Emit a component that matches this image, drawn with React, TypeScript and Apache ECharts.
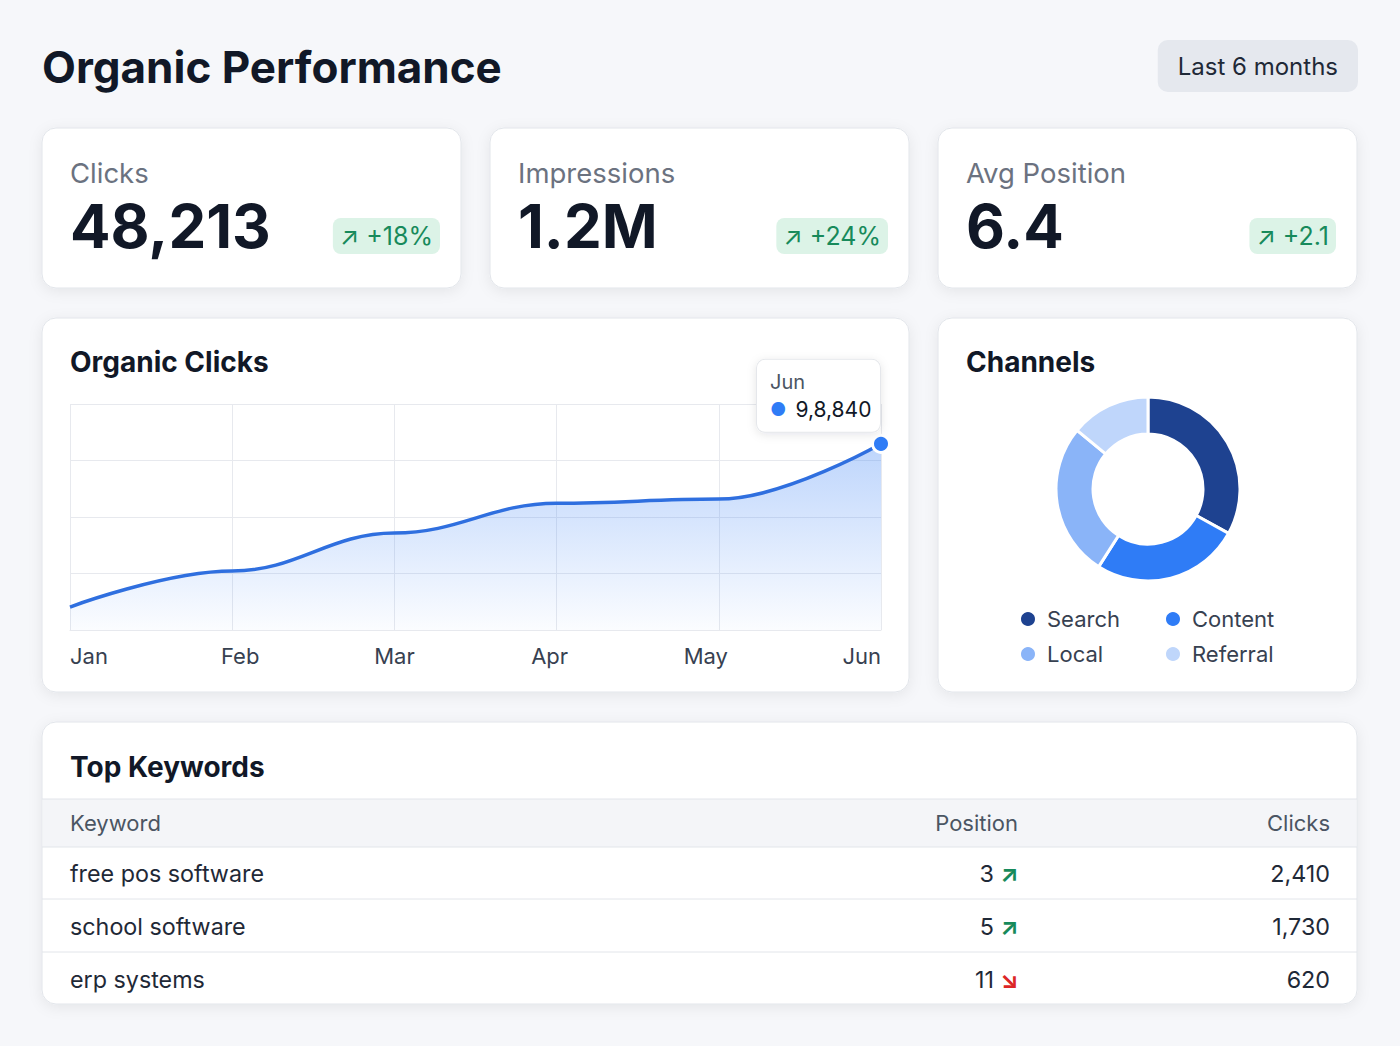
import React, { useEffect, useRef } from "react";
import * as echarts from "echarts";

// ---- data ----
const pageTitle = "Organic Performance";
const rangeLabel = "Last 6 months";

const kpiLabels = ["Clicks", "Impressions", "Avg Position"];
const kpiValues = ["48,213", "1.2M", "6.4"];
const kpiDeltas = ["↗ +18%", "↗ +24%", "↗ +2.1"];

const months = ["Jan", "Feb", "Mar", "Apr", "May", "Jun"];
const organicClicks = [12200, 31300, 51500, 67300, 69500, 98840];
const peakValueText = "9,8,840";

const channelNames = ["Search", "Content", "Local", "Referral"];
const channelShares = [33, 26, 27, 14];
const channelColors = ["#1e4290", "#2f7cf6", "#8ab4f8", "#bfd6fb"];

const tableHeaders = ["Keyword", "Position", "Clicks"];
const keywords = ["free pos software", "school software", "erp systems"];
const keywordPositions = [3, 5, 11];
const keywordTrendUp = [true, true, false];
const keywordClicks = ["2,410", "1,730", "620"];

const FONT = "Inter, 'Noto Sans', sans-serif";
const INK = "#111827";
const BORDER = "#e2e5ea";

// month labels are spread edge-to-edge, so the inner ones sit a little off their ticks
const monthLabelNudge = [0, 8, 0, -7, -13, 0];

function card(x: number, y: number, w: number, h: number) {
  return {
    type: "rect",
    z: 0,
    shape: { x, y, width: w, height: h, r: 14 },
    style: {
      fill: "#ffffff",
      stroke: BORDER,
      lineWidth: 1,
      shadowBlur: 14,
      shadowOffsetY: 3,
      shadowColor: "rgba(15, 23, 42, 0.07)",
    },
  };
}

function text(x: number, y: number, t: string, extra: any = {}) {
  return {
    type: "text",
    z: 1,
    x,
    y,
    style: {
      text: t,
      fontFamily: FONT,
      fontSize: 22,
      fill: INK,
      align: "left",
      verticalAlign: "middle",
      ...extra,
    },
  };
}

function hline(x1: number, x2: number, y: number) {
  return {
    type: "line",
    z: 1,
    shape: { x1, y1: y, x2, y2: y },
    style: { stroke: BORDER, lineWidth: 1 },
  };
}

function buildGraphics() {
  const g: any[] = [];
  g.push(text(42, 67, pageTitle, { fontSize: 44, fontWeight: 700 }));
  g.push(
    text(1358, 66, rangeLabel, {
      align: "right",
      fontSize: 24,
      fill: "#1f2937",
      lineHeight: 26,
      backgroundColor: "#e5e8ee",
      padding: [13, 20],
      borderRadius: 10,
    })
  );

  // KPI cards
  const kpiX = [42, 490, 938];
  kpiX.forEach((x, i) => {
    g.push(card(x, 128, 419, 160));
    g.push(text(x + 28, 173, kpiLabels[i], { fontSize: 27.5, fill: "#6b7280" }));
    g.push(text(x + 28, 226, kpiValues[i], { fontSize: 60, fontWeight: 700 }));
    g.push(
      text(x + 398, 236, kpiDeltas[i], {
        align: "right",
        fontSize: 25,
        fill: "#178a5b",
        lineHeight: 26,
        backgroundColor: "#dcf3e7",
        padding: [5, 7],
        borderRadius: 8,
      })
    );
  });

  // chart cards
  g.push(card(42, 318, 867, 374));
  g.push(text(70, 362, "Organic Clicks", { fontSize: 28, fontWeight: 700 }));
  g.push(card(938, 318, 419, 374));
  g.push(text(966, 362, "Channels", { fontSize: 28, fontWeight: 700 }));

  // keyword table
  g.push(card(42, 722, 1315, 282));
  g.push(text(70, 767, "Top Keywords", { fontSize: 28, fontWeight: 700 }));
  g.push({
    type: "rect",
    z: 1,
    shape: { x: 43, y: 799, width: 1313, height: 48 },
    style: { fill: "#f4f5f8" },
  });
  g.push(hline(42, 1357, 799));
  g.push(hline(42, 1357, 847));
  g.push(text(70, 823, tableHeaders[0], { fill: "#4b5563" }));
  g.push(text(1018, 823, tableHeaders[1], { fill: "#4b5563", align: "right" }));
  g.push(text(1330, 823, tableHeaders[2], { fill: "#4b5563", align: "right" }));

  const rowY = [873, 926, 979];
  keywords.forEach((k, i) => {
    const y = rowY[i];
    if (i > 0) g.push(hline(42, 1357, y - 27));
    g.push(text(70, y, k, { fontSize: 23.3, fill: "#1f2937" }));
    g.push(
      text(994, y, String(keywordPositions[i]), {
        fontSize: 23.3,
        fill: "#1f2937",
        align: "right",
      })
    );
    g.push(
      text(1000, y, keywordTrendUp[i] ? "↗" : "↘", {
        fontSize: 24,
        fontWeight: 700,
        fill: keywordTrendUp[i] ? "#178a5b" : "#dc2626",
      })
    );
    g.push(
      text(1330, y, keywordClicks[i], {
        fontSize: 23.3,
        fill: "#1f2937",
        align: "right",
      })
    );
  });
  return g;
}

function legendOption(names: string[], left: number) {
  return {
    data: names,
    orient: "vertical",
    left,
    top: 608,
    padding: 0,
    itemGap: 13,
    icon: "circle",
    itemWidth: 16,
    itemHeight: 16,
    textStyle: {
      fontSize: 22,
      color: "#374151",
      lineHeight: 22,
      fontFamily: FONT,
      padding: [0, 0, 0, 6],
    },
  };
}

export default function App() {
  const ref = useRef<HTMLDivElement>(null);

  useEffect(() => {
    if (!ref.current) return;
    const chart = echarts.init(ref.current, undefined, { renderer: "svg" });
    const gridColor = "#e7e9ee";

    const monthRich: Record<string, any> = {};
    monthLabelNudge.forEach((n, i) => {
      monthRich["m" + i] = {
        fontSize: 22,
        color: "#374151",
        fontFamily: FONT,
        padding: n >= 0 ? [0, 0, 0, 2 * n] : [0, -2 * n, 0, 0],
      };
    });

    chart.setOption({
      animation: false,
      backgroundColor: "#f6f7fa",
      textStyle: { fontFamily: FONT },
      graphic: { elements: buildGraphics() },
      grid: { left: 70, top: 404, width: 811, height: 226, containLabel: false },
      xAxis: {
        type: "category",
        data: months,
        boundaryGap: false,
        axisTick: { show: false },
        axisLine: { show: true, lineStyle: { color: gridColor } },
        splitLine: { show: true, lineStyle: { color: gridColor } },
        axisLabel: {
          fontSize: 22,
          color: "#374151",
          margin: 15,
          fontFamily: FONT,
          alignMinLabel: "left",
          alignMaxLabel: "right",
          formatter: (v: string, i: number) => `{m${i}|${v}}`,
          rich: monthRich,
        },
      },
      yAxis: {
        type: "value",
        min: 0,
        max: 120000,
        interval: 30000,
        axisLabel: { show: false },
        axisLine: { show: false },
        axisTick: { show: false },
        splitLine: { lineStyle: { color: gridColor } },
      },
      legend: [
        legendOption([channelNames[0], channelNames[2]], 1019),
        legendOption([channelNames[1], channelNames[3]], 1164),
      ],
      series: [
        {
          type: "line",
          name: "Organic Clicks",
          data: organicClicks,
          smooth: 0.4,
          smoothMonotone: "x",
          showSymbol: false,
          z: 3,
          lineStyle: { color: "#2f6fdf", width: 3.5 },
          itemStyle: { color: "#2f7cf6" },
          areaStyle: {
            color: new echarts.graphic.LinearGradient(0, 0, 0, 1, [
              { offset: 0, color: "rgba(59,130,246,0.48)" },
              { offset: 1, color: "rgba(59,130,246,0.03)" },
            ]),
          },
          markPoint: {
            symbol: "circle",
            symbolSize: 17,
            itemStyle: { color: "#2f7cf6", borderColor: "#ffffff", borderWidth: 3 },
            data: [
              {
                type: "max",
                label: {
                  show: true,
                  position: [-114, -2],
                  align: "left",
                  verticalAlign: "bottom",
                  width: 98,
                  formatter: () =>
                    `{m|${months[months.length - 1]}}\n{d|●}{v|${peakValueText}}`,
                  backgroundColor: "#ffffff",
                  borderColor: "#e5e7eb",
                  borderWidth: 1,
                  borderRadius: 8,
                  padding: [8, 12, 8, 13],
                  shadowBlur: 10,
                  shadowOffsetY: 2,
                  shadowColor: "rgba(15,23,42,0.10)",
                  rich: {
                    m: { fontSize: 20, color: "#4b5563", lineHeight: 28, fontFamily: FONT },
                    d: {
                      fontSize: 18,
                      color: "#2f7cf6",
                      lineHeight: 28,
                      fontFamily: FONT,
                      padding: [0, 9, 0, 0],
                    },
                    v: { fontSize: 21, color: "#111827", lineHeight: 28, fontFamily: FONT },
                  },
                },
              },
            ],
          },
        },
        {
          type: "pie",
          name: "Channels",
          center: [1148, 489],
          radius: [55, 92],
          startAngle: 90,
          clockwise: true,
          label: { show: false },
          labelLine: { show: false },
          itemStyle: { borderColor: "#ffffff", borderWidth: 3 },
          data: channelNames.map((n, i) => ({
            name: n,
            value: channelShares[i],
            itemStyle: { color: channelColors[i] },
          })),
        },
      ],
    });

    return () => chart.dispose();
  }, []);

  return (
    <div
      ref={ref}
      style={{ position: "absolute", left: 0, top: 0, width: 1400, height: 1046 }}
    />
  );
}
